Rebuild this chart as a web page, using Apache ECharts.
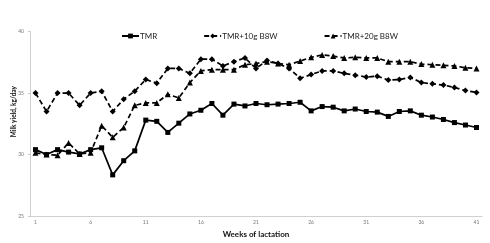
<!DOCTYPE html>
<html>
<head>
<meta charset="utf-8">
<script src="https://cdn.jsdelivr.net/npm/echarts@6/dist/echarts.min.js"></script>
<style>
  html, body { margin: 0; padding: 0; background: #ffffff; }
  #chart { width: 490px; height: 243px; }
</style>
</head>
<body>
<div id="chart"></div>
<script>
  // weeks of lactation
  const weeks = ['1','2','3','4','5','6','7','8','9','10','11','12','13','14','15','16','17','18','19','20','21',
    '22','23','24','25','26','27','28','29','30','31','32','33','34','35','36','37','38','39','40','41'];
  const seriesNames = ['TMR', 'TMR+10g B8W', 'TMR+20g B8W'];
  // milk yield, kg/day
  const tmr = [30.4, 30.0, 30.4, 30.2, 30.05, 30.4, 30.55, 28.35, 29.5, 30.3,
    32.8, 32.7, 31.8, 32.55, 33.3, 33.6, 34.15, 33.2, 34.1, 33.95,
    34.15, 34.05, 34.1, 34.15, 34.25, 33.55, 33.9, 33.85, 33.55, 33.7,
    33.5, 33.45, 33.1, 33.5, 33.55, 33.2, 33.05, 32.85, 32.6, 32.4, 32.2];
  const tmr10 = [35.0, 33.5, 35.0, 35.0, 34.0, 35.0, 35.15, 33.5, 34.5, 35.15,
    36.1, 35.8, 37.0, 37.0, 36.6, 37.75, 37.75, 37.2, 37.55, 37.85,
    37.0, 37.65, 37.4, 37.0, 36.2, 36.5, 36.8, 36.8, 36.6, 36.45,
    36.3, 36.37, 36.05, 36.1, 36.27, 35.85, 35.75, 35.65, 35.45, 35.2, 35.05];
  const tmr20 = [30.15, 30.0, 29.95, 30.95, 30.05, 30.15, 32.35, 31.4, 32.2, 34.0,
    34.2, 34.2, 34.9, 34.6, 35.85, 36.8, 36.9, 36.9, 36.9, 37.3,
    37.4, 37.55, 37.4, 37.3, 37.6, 37.9, 38.1, 38.0, 37.85, 37.9,
    37.85, 37.85, 37.55, 37.55, 37.55, 37.35, 37.3, 37.25, 37.2, 37.05, 37.0];

  const chart = echarts.init(document.getElementById('chart'));
  const font = 'Lato';

  function lineSeries(name, data, symbol, dashed) {
    return {
      name: name,
      type: 'line',
      data: data,
      symbol: symbol,
      symbolSize: symbol === 'rect' ? 5 : 6,
      itemStyle: { color: '#000000' },
      lineStyle: { color: '#000000', width: 1.7, type: dashed ? [5, 3] : 'solid' },
      animation: false
    };
  }

  const option = {
    backgroundColor: '#ffffff',
    legend: {
      top: 27,
      left: 116,
      itemGap: 46,
      itemWidth: 17,
      itemHeight: 6,
      textStyle: { fontFamily: font, fontSize: 8, color: '#222222', padding: [0, 0, 0, -4] },
      data: seriesNames
    },
    grid: { left: 30, right: 8, top: 31.5, bottom: 24.5 },
    xAxis: {
      type: 'category',
      data: weeks,
      boundaryGap: true,
      name: 'Weeks of lactation',
      nameLocation: 'middle',
      nameGap: 13,
      nameTextStyle: { fontFamily: font, fontSize: 8, fontWeight: 'bold', color: '#111111' },
      axisLine: { lineStyle: { color: '#d0d0d0', width: 1 } },
      axisTick: { interval: 4, length: 2, lineStyle: { color: '#c8c8c8' } },
      axisLabel: { interval: 4, fontFamily: font, fontSize: 5, color: '#777777', margin: 4 }
    },
    yAxis: {
      type: 'value',
      min: 25,
      max: 40,
      interval: 5,
      axisLine: { show: true, lineStyle: { color: '#d0d0d0', width: 1 } },
      axisTick: { show: true, length: 2, lineStyle: { color: '#c8c8c8' } },
      splitLine: { show: false },
      axisLabel: { fontFamily: font, fontSize: 5, color: '#777777', margin: 6 }
    },
    graphic: [{
      type: 'text',
      left: 10,
      top: 86,
      rotation: Math.PI / 2,
      style: {
        text: 'Milk yield, kg/day',
        fontFamily: font,
        fontSize: 6.5,
        fontWeight: 'bold',
        fill: '#111111'
      }
    }],
    series: [
      lineSeries(seriesNames[0], tmr, 'rect', false),
      lineSeries(seriesNames[1], tmr10, 'diamond', true),
      lineSeries(seriesNames[2], tmr20, 'triangle', true)
    ]
  };
  chart.setOption(option);
</script>
</body>
</html>
